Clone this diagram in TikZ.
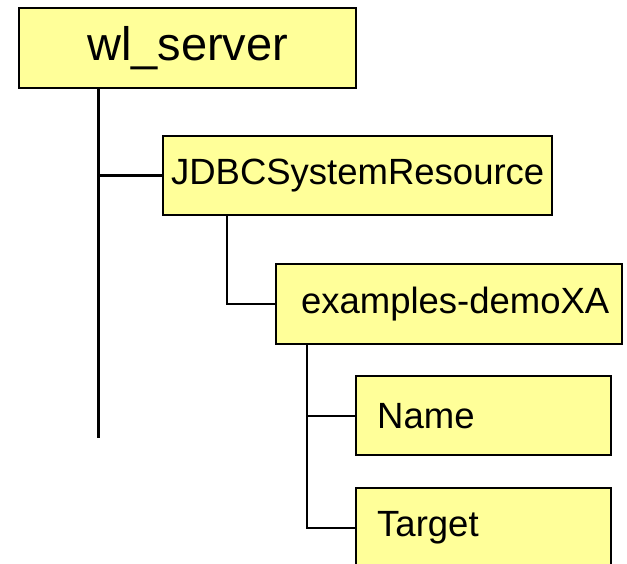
\documentclass[tikz,border=0pt]{standalone}
\usepackage{fontspec}
\setmainfont{Liberation Sans}
\definecolor{boxfill}{RGB}{255,255,153}
\begin{document}
\begin{tikzpicture}[x=1pt,y=-1pt,
  box/.style={draw=black, line width=2.4pt, fill=boxfill, inner sep=0pt, anchor=north west, text=black},
  bigtext/.style={font=\fontsize{47}{50}\selectfont},
  midtext/.style={font=\fontsize{36.5}{40}\selectfont},
  link/.style={draw=black, line width=2.4pt}]
\useasboundingbox (0,0) rectangle (627,564);
\node[box, bigtext, minimum width=337pt, minimum height=80pt] (wl) at (18,7) {wl\_server};
\node[box, midtext, minimum width=389pt, minimum height=79pt] (jdbc) at (162,135) {JDBCSystemResource};
\node[box, midtext, minimum width=346pt, minimum height=80pt] (ex) at (275,263) {\hspace*{12pt}examples-demoXA};
\node[box, midtext, text width=213pt, align=left, inner xsep=21pt, minimum height=79pt] (name) at (355,375) {Name};
\node[box, midtext, text width=213pt, align=left, inner xsep=21pt, minimum height=79pt] (target) at (355,487) {Target};
\coordinate (wlend) at (98.5,438);
\draw[link] (wl.south -| wlend) -- (wlend);
\draw[link] (wl.south -| wlend) |- (jdbc.west);
\coordinate (jx) at (227,0);
\draw[link] (jdbc.south -| jx) |- (ex.west);
\coordinate (ex0) at (307,0);
\draw[link] (ex.south -| ex0) |- (name.west);
\draw[link] (ex.south -| ex0) |- (target.west);
\end{tikzpicture}
\end{document}
